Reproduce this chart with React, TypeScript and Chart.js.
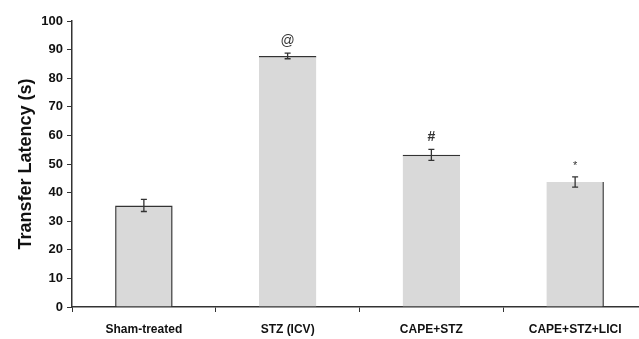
import React, { useEffect, useRef } from "react";
import { Chart, registerables } from "chart.js";

Chart.register(...registerables);

const categories = ["Sham-treated", "STZ (ICV)", "CAPE+STZ", "CAPE+STZ+LICI"];
const means = [35.5, 87.8, 53.2, 43.7];
const errors = [2.1, 1.0, 1.9, 1.8];
const markers = ["", "@", "#", "*"];
const yTicks = [0, 10, 20, 30, 40, 50, 60, 70, 80, 90, 100];

const FONT = "'Liberation Sans', Arial, sans-serif";

export default function App() {
  const ref = useRef<HTMLCanvasElement | null>(null);

  useEffect(() => {
    if (!ref.current) return;
    const errorPlugin = {
      id: "errorBars",
      afterDatasetsDraw(chart: any) {
        const ctx = chart.ctx;
        const meta = chart.getDatasetMeta(0);
        const y = chart.scales.y;
        ctx.save();
        ctx.strokeStyle = "#333";
        ctx.lineWidth = 1.3;
        meta.data.forEach((bar: any, i: number) => {
          const x = bar.x;
          const top = y.getPixelForValue(means[i] + errors[i]);
          const bot = y.getPixelForValue(means[i] - errors[i]);
          ctx.beginPath();
          ctx.moveTo(x, top);
          ctx.lineTo(x, bot);
          ctx.moveTo(x - 3, top);
          ctx.lineTo(x + 3, top);
          ctx.moveTo(x - 3, bot);
          ctx.lineTo(x + 3, bot);
          ctx.stroke();
          const m = markers[i];
          if (m) {
            ctx.fillStyle = "#333";
            ctx.textAlign = "center";
            ctx.textBaseline = "bottom";
            if (m === "@") ctx.font = "14px 'Liberation Sans', Arial, sans-serif";
            else if (m === "#") ctx.font = "bold 14px 'Liberation Sans', Arial, sans-serif";
            else ctx.font = "11px 'Liberation Sans', Arial, sans-serif";
            ctx.fillText(m, x, top - 5);
          }
        });
        ctx.restore();
      },
    };

    const chart = new Chart(ref.current, {
      type: "bar",
      data: {
        labels: categories,
        datasets: [
          {
            data: means,
            backgroundColor: "#d9d9d9",
            borderColor: "#333",
            borderSkipped: false,
            borderWidth: [
              { top: 1.5, left: 1.5, right: 1.5, bottom: 0 },
              { top: 1.5, left: 0, right: 0, bottom: 0 },
              { top: 1.5, left: 0, right: 0, bottom: 0 },
              { top: 0, left: 0, right: 1.5, bottom: 0 },
            ] as any,
            barPercentage: 0.4,
            categoryPercentage: 1,
          },
        ],
      },
      options: {
        responsive: false,
        animation: false,
        layout: { padding: { top: 21, right: 13, left: 0, bottom: 0 } },
        plugins: { legend: { display: false }, tooltip: { enabled: false } },
        scales: {
          x: {
            offset: true,
            grid: {
              offset: true,
              drawOnChartArea: false,
              drawTicks: true,
              tickLength: 5,
              color: "#333",
            },
            border: { color: "#333", width: 1.5 },
            ticks: {
              color: "#111",
              padding: 10,
              font: { family: FONT, size: 12, weight: "bold" },
              maxRotation: 0,
              autoSkip: false,
            },
            afterFit: (s: any) => {
              s.height = 32;
            },
          },
          y: {
            min: 0,
            max: 100,
            afterBuildTicks: (s: any) => {
              s.ticks = yTicks.map((v) => ({ value: v }));
            },
            grid: {
              drawOnChartArea: false,
              drawTicks: true,
              tickLength: 5,
              color: "#333",
            },
            border: { color: "#333", width: 1.5 },
            ticks: {
              color: "#111",
              padding: 4,
              font: { family: FONT, size: 13, weight: "bold" },
            },
            title: {
              display: true,
              text: "Transfer Latency (s)",
              color: "#111",
              font: { family: FONT, size: 18, weight: "bold" },
              padding: { top: 15, bottom: 0 },
            },
            afterFit: (s: any) => {
              s.width = 72;
            },
          },
        },
      },
      plugins: [errorPlugin],
    });
    return () => chart.destroy();
  }, []);

  return (
    <div
      style={{
        position: "absolute",
        left: 0,
        top: 0,
        width: 639,
        height: 339,
        overflow: "hidden",
        background: "#fff",
      }}
    >
      <canvas ref={ref} width={660} height={339} style={{ display: "block" }} />
    </div>
  );
}
